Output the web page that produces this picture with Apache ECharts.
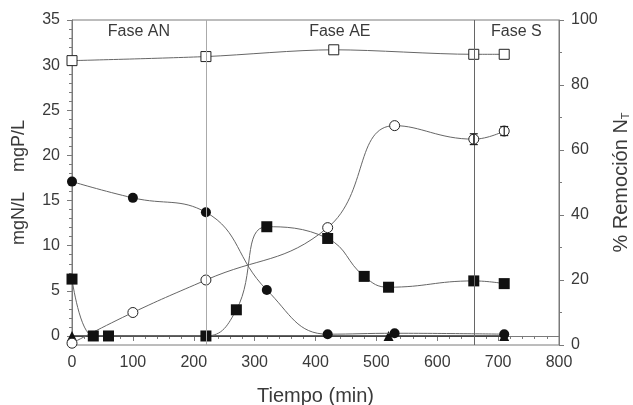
<!DOCTYPE html>
<html><head><meta charset="utf-8">
<script src="https://cdn.jsdelivr.net/npm/echarts@6/dist/echarts.min.js"></script>
<style>html,body{margin:0;padding:0;background:#fff}#c{width:633px;height:405px}</style>
</head><body><div id="c"></div><script>
// ---- data ----
const xOpenSq = [0, 220, 430, 660, 710];
const yOpenSq = [30.5, 30.95, 31.7, 31.2, 31.2];
const xOpenCirc = [0, 100, 220, 420, 530, 660, 710];
const yOpenCirc = [-0.8, 2.6, 6.2, 12.0, 23.3, 21.8, 22.7];
const xFillCirc = [0, 100, 220, 320, 420, 530, 710];
const yFillCirc = [17.1, 15.3, 13.7, 5.1, 0.2, 0.3, 0.2];
const xFillSq = [0, 35, 60, 220, 270, 320, 420, 480, 520, 660, 710];
const yFillSq = [6.3, 0, 0, 0, 2.9, 12.1, 10.8, 6.6, 5.4, 6.1, 5.8];
const xTri = [0, 520, 710];
const yTri = [0, 0, 0];
const errX = [660, 710];
const errLow = [21.2, 22.2];
const errHigh = [22.4, 23.2];
const phaseStart = [0, 220, 660];
const phaseEnd = [220, 660, 800];
const phaseLabels = ['Fase AN', 'Fase AE', 'Fase S'];
const leftTickVals = [0, 5, 10, 15, 20, 25, 30, 35];
const leftMinorVals = [];
for (let v = -1; v <= 35; v++) leftMinorVals.push(v);

const zip = (xs, ys) => xs.map((x, i) => [x, ys[i]]);
const FONT = 'Liberation Sans, Arial, sans-serif';
const TXT = '#3a3a3a';
const AX = '#7a7a7a';
const LINE = '#666';

const chart = echarts.init(document.getElementById('c'));
chart.setOption({
  animation: false,
  grid: { left: 72, right: 74, top: 20, bottom: 60, containLabel: false, outerBoundsMode: 'none',
          show: true, borderColor: AX, borderWidth: 1, backgroundColor: 'transparent' },
  xAxis: {
    type: 'value', min: 0, max: 800, interval: 100,
    name: 'Tiempo (min)', nameLocation: 'middle', nameGap: 41,
    nameTextStyle: { fontFamily: FONT, fontSize: 20, color: TXT },
    axisLine: { show: true, lineStyle: { color: AX } },
    axisTick: { show: true, length: 5, lineStyle: { color: AX } },
    minorTick: { show: true, splitNumber: 5, length: 3, lineStyle: { color: AX } },
    axisLabel: { fontFamily: FONT, fontSize: 16, color: TXT, margin: 10 },
    splitLine: { show: false }
  },
  yAxis: [
    {
      type: 'value', min: -1, max: 35, position: 'left',
      name: 'mgN/L    mgP/L', nameLocation: 'middle', nameGap: 44, nameRotate: 90,
      nameTextStyle: { fontFamily: FONT, fontSize: 18, color: TXT },
      axisLine: { show: true, lineStyle: { color: AX } },
      axisTick: { show: true, length: 5, customValues: leftTickVals, lineStyle: { color: AX } },
      axisLabel: { fontFamily: FONT, fontSize: 16, color: TXT, customValues: leftTickVals, margin: 12 },
      splitLine: { show: false }
    },
    {
      type: 'value', min: 0, max: 100, interval: 20, position: 'right',
      name: '{a|% Remoción N}{b|T}', nameLocation: 'middle', nameGap: 52, nameRotate: 90,
      nameTextStyle: { fontFamily: FONT, fontSize: 20, color: TXT,
        rich: { a: { fontFamily: FONT, fontSize: 20, color: TXT }, b: { fontFamily: FONT, fontSize: 11, color: TXT, verticalAlign: 'bottom', padding: [8, 0, 0, 0] } } },
      axisLine: { show: true, lineStyle: { color: AX } },
      axisTick: { show: true, length: 5, lineStyle: { color: AX } },
      minorTick: { show: true, splitNumber: 2, length: 3, lineStyle: { color: AX } },
      axisLabel: { fontFamily: FONT, fontSize: 16, color: TXT, margin: 12 },
      splitLine: { show: false }
    },
    {
      type: 'value', min: -1, max: 35, position: 'left',
      axisLine: { show: false },
      axisTick: { show: true, length: 3, customValues: leftMinorVals, lineStyle: { color: AX } },
      axisLabel: { show: false },
      splitLine: { show: false }
    }
  ],
  series: [
    {
      type: 'line', name: 'phases', data: [], yAxisIndex: 0,
      markArea: {
        silent: true,
        itemStyle: { color: 'transparent' },
        label: { show: true, position: 'insideTop', distance: 4, fontFamily: FONT, fontSize: 16, color: TXT },
        data: phaseLabels.map((n, i) => [{ name: n, xAxis: phaseStart[i] }, { xAxis: phaseEnd[i] }])
      },
      markLine: {
        silent: true, symbol: 'none', label: { show: false },
        lineStyle: { type: 'solid', width: 1, color: '#999' },
        data: [
          { xAxis: phaseStart[1], lineStyle: { color: '#aaa' } },
          { xAxis: phaseStart[2], lineStyle: { color: '#666' } }
        ]
      }
    },
    {
      type: 'line', name: 'tri', yAxisIndex: 0, data: zip(xTri, yTri),
      symbol: 'triangle', symbolSize: 10, itemStyle: { color: '#111' },
      lineStyle: { color: '#333', width: 1.6 }, z: 2
    },
    {
      type: 'line', name: 'openSq', yAxisIndex: 0, data: zip(xOpenSq, yOpenSq), smooth: 0.3,
      symbol: 'rect', symbolSize: 10, itemStyle: { color: '#fff', borderColor: '#222', borderWidth: 1 },
      lineStyle: { color: LINE, width: 1 }, z: 3
    },
    {
      type: 'line', name: 'openCirc', yAxisIndex: 0, data: zip(xOpenCirc, yOpenCirc), smooth: 0.45,
      symbol: 'circle', symbolSize: 10, itemStyle: { color: '#fff', borderColor: '#222', borderWidth: 1 },
      lineStyle: { color: LINE, width: 1 }, z: 3
    },
    {
      type: 'line', name: 'fillCirc', yAxisIndex: 0, data: zip(xFillCirc, yFillCirc), smooth: 0.45,
      symbol: 'circle', symbolSize: 10, itemStyle: { color: '#111' },
      lineStyle: { color: LINE, width: 1 }, z: 4
    },
    {
      type: 'line', name: 'fillSq', yAxisIndex: 0, data: zip(xFillSq, yFillSq), smooth: 0.45,
      symbol: 'rect', symbolSize: 11, itemStyle: { color: '#111' },
      lineStyle: { color: LINE, width: 1 }, z: 4
    },
    {
      type: 'custom', name: 'err', yAxisIndex: 0, z: 5,
      data: errX.map((x, i) => [x, errLow[i], errHigh[i]]),
      renderItem: function (params, api) {
        const lo = api.coord([api.value(0), api.value(1)]);
        const hi = api.coord([api.value(0), api.value(2)]);
        const w = 4;
        const st = { stroke: '#222', lineWidth: 1.2 };
        return { type: 'group', children: [
          { type: 'line', shape: { x1: lo[0], y1: lo[1], x2: hi[0], y2: hi[1] }, style: st },
          { type: 'line', shape: { x1: lo[0] - w, y1: lo[1], x2: lo[0] + w, y2: lo[1] }, style: st },
          { type: 'line', shape: { x1: hi[0] - w, y1: hi[1], x2: hi[0] + w, y2: hi[1] }, style: st }
        ] };
      }
    }
  ]
});
</script></body></html>
